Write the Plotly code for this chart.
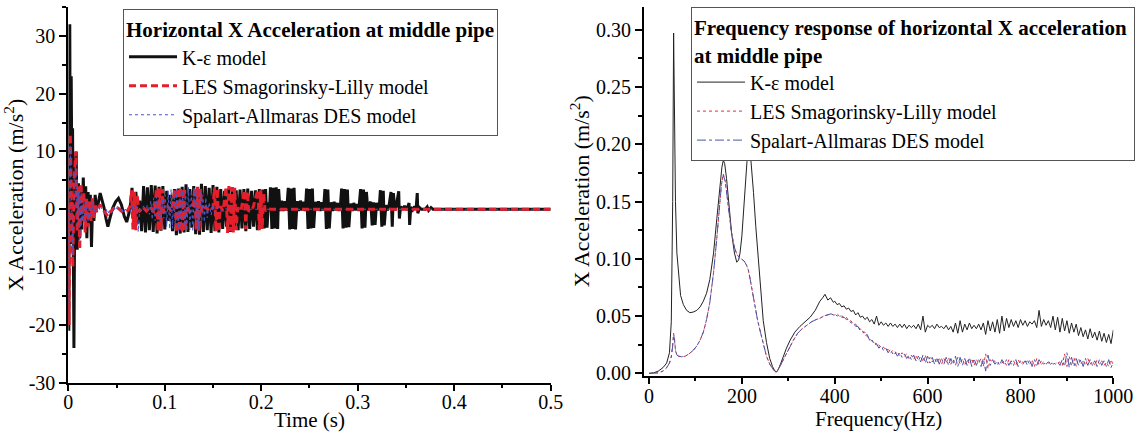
import plotly.graph_objects as go

# ---------------- Left panel: time history (s, m/s^2) ----------------
ke_t = [0, 0.0005, 0.0015, 0.0022, 0.003, 0.0037, 0.0044, 0.0051, 0.0058, 0.0068, 0.0082, 0.0092,
        0.0105, 0.0118, 0.0128, 0.0140, 0.0155, 0.0168, 0.0180, 0.0192, 0.0205, 0.0218, 0.0228,
        0.0240, 0.0252, 0.0265, 0.0278, 0.0290,
        0.031, 0.033, 0.035, 0.037, 0.039, 0.041, 0.043, 0.046, 0.049, 0.052, 0.055, 0.058, 0.0605,
        0.063, 0.065,
        0.066, 0.068, 0.070, 0.072, 0.074, 0.076, 0.078, 0.080, 0.082, 0.084, 0.086, 0.088, 0.090,
        0.092, 0.094, 0.096, 0.098, 0.100, 0.102, 0.104, 0.106, 0.108, 0.110, 0.112, 0.114, 0.116,
        0.118, 0.120, 0.122, 0.124, 0.126, 0.128, 0.130, 0.132, 0.134, 0.136, 0.138, 0.140, 0.142,
        0.144, 0.146, 0.148, 0.150, 0.152, 0.154, 0.156, 0.158, 0.160, 0.162, 0.164, 0.166, 0.168,
        0.170, 0.172, 0.174, 0.176, 0.178, 0.180, 0.182, 0.184, 0.186, 0.188, 0.190, 0.192, 0.194,
        0.196, 0.198, 0.200,
        0.2015, 0.203, 0.2045, 0.206, 0.2075, 0.2085,
        0.2095, 0.211, 0.2125, 0.214, 0.2155, 0.217, 0.2180,
        0.2195, 0.2212, 0.2229, 0.2246, 0.2263,
        0.2280, 0.2295, 0.2310, 0.2325, 0.2340, 0.2355,
        0.2372, 0.2389, 0.2406, 0.2423, 0.2440, 0.2457,
        0.2470, 0.2485, 0.2500, 0.2515, 0.2530, 0.2543,
        0.2560, 0.2577, 0.2594, 0.2611, 0.2628, 0.2645,
        0.2660, 0.2675, 0.2690, 0.2705,
        0.2722, 0.2739, 0.2756, 0.2773, 0.2790, 0.2807, 0.2822,
        0.2833, 0.2848, 0.2863, 0.2878, 0.2893, 0.2908,
        0.2925, 0.2942, 0.2959, 0.2976, 0.2993, 0.3010,
        0.3030, 0.3045, 0.3060, 0.3075, 0.3090,
        0.3105, 0.3120,
        0.3135, 0.3150, 0.3165, 0.3180, 0.3195,
        0.3212, 0.3225,
        0.3235, 0.3250, 0.3265, 0.3275,
        0.3292, 0.3309, 0.3326,
        0.3345, 0.3358, 0.3370,
        0.3385, 0.3400,
        0.3425, 0.3432, 0.3445,
        0.3465, 0.3485, 0.3505, 0.3520,
        0.3532, 0.3538, 0.3550,
        0.3570, 0.3590, 0.3605,
        0.3617, 0.3623,
        0.3640, 0.3660, 0.3700, 0.3720, 0.3735, 0.3760, 0.3780, 0.5]
ke_a = [0, -21, 32, -6, 23, 4, 14, -19, -24, 6, 10, -7,
        4.5, -5, 3, -3.5, 5.5, -2, 4, -5, 3, -2.5, 2.5,
        -6.5, 1, -2, 2.5, 0.5,
        1.0, 2.8, 1.6, 0.3, -1.6, -3.0, -1.6, 0.2, 1.3, 1.9, 0.8, -1.2, -2.2,
        -0.6, 1.5,
        3.7, -3.2, 3.0, -2.5, 1.5, -3.8, 4.0, -4.0, 3.8, -3.6, 4.2, -3.9, 4.1,
        -4.2, 3.9, -3.7, 4.0, -3.5, 3.2, -2.0, 2.5, -3.8, 3.5, -4.5, 3.6, -4.2,
        3.9, -4.0, 4.3, -3.9, 3.5, -3.2, 4.0, -4.3, 3.8, -4.4, 4.4, -3.9, 4.0,
        -3.6, 3.7, -4.1, 4.2, -3.8, 3.9, -4.0, 3.5, -3.4, 3.2, -3.0, 3.6, -3.9,
        3.8, -3.5, 3.3, -3.6, 3.4, -3.3, 3.5, -3.8, 3.6, -3.4, 3.2, -3.0, 3.3,
        -3.6, 3.5, -3.4,
        3.4, -3.3, 3.5, -3.2, 1.2, -0.3,
        3.8, -3.4, 3.7, -3.3, 3.8, -3.4, 3.5,
        -0.3, 1.5, -0.3, 1.4, -0.2,
        3.7, -3.5, 3.6, -3.4, 3.7, -3.5,
        1.4, -0.3, 1.5, -0.2, 1.3, -0.3,
        3.6, -3.4, 3.5, -3.3, 3.6, -3.2,
        1.3, -0.2, 1.4, -0.3, 1.2, -0.2,
        3.5, -3.4, 3.4, -3.3,
        1.2, -0.3, 1.3, -0.2, 1.1, -0.3, 1.0,
        3.6, -3.3, 3.5, -3.2, 3.4, -3.1,
        1.0, -0.3, 1.1, -0.2, 0.9, -0.3,
        3.5, -3.3, 3.4, -3.2, 3.0,
        -0.2, 0.9,
        1.3, -2.8, 1.2, -2.7, 1.1,
        -0.2, 0.8,
        3.3, -3.0, 3.2, -2.8,
        0.7, -0.2, 0.8,
        3.0, -3.0, 2.8,
        -0.2, 0.6,
        3.1, -1.6, 0.5,
        -0.1, 0.6, -0.1, 0.5,
        1.1, -2.7, 0.4,
        -0.1, 0.5, 0.0,
        2.8, -0.7,
        0.3, 0.0, 0.0, 0.4, -0.2, 0.3, 0.0, 0.0]

les_t = [0, 0.0008, 0.002, 0.0032, 0.0046, 0.006, 0.0078, 0.0092, 0.0105, 0.0118, 0.0132, 0.0146,
         0.016, 0.0175, 0.019, 0.0205, 0.022, 0.0235, 0.025, 0.0265, 0.028, 0.0295,
         0.033, 0.037, 0.041, 0.045, 0.049, 0.053, 0.057, 0.061, 0.064,
         0.0655, 0.067, 0.0685, 0.070, 0.0715, 0.073,
         0.077, 0.081, 0.085, 0.089,
         0.0915, 0.093, 0.0945, 0.096, 0.0975, 0.099,
         0.103, 0.107,
         0.1105, 0.112, 0.1135, 0.115, 0.1165, 0.118, 0.1195, 0.121, 0.1225,
         0.126, 0.1295,
         0.1310, 0.1325, 0.1340, 0.1355, 0.1370, 0.1385,
         0.1425, 0.1465, 0.1500,
         0.1515, 0.1530, 0.1545, 0.1560, 0.1575,
         0.1605,
         0.1635, 0.1650, 0.1665, 0.1680, 0.1695, 0.1710, 0.1725, 0.1740, 0.1755,
         0.1790,
         0.1825, 0.1840, 0.1855, 0.1870,
         0.1915,
         0.1965, 0.1980, 0.1995, 0.2010, 0.2025, 0.2040,
         0.2060, 0.2100, 0.5]
les_a = [0, -20, 13, 1, -10, 5, 10, -4, 4, -7, 4.5, -2,
         3, -4, 2, -3, 1.5, -2, 2, -1.5, 1, -0.5,
         0.8, -0.3, -1.2, -0.2, 0.5, 0.0, -0.6, -0.3, 0.5,
         3.3, -3.5, 3.0, -3.6, 2.5, -0.5,
         0.4, -0.3, 0.5, -0.6,
         3.6, -3.8, 3.7, -3.6, 3.5, -0.6,
         0.5, -0.4,
         3.6, -4.0, 3.7, -3.8, 3.8, -4.0, 3.6, -3.7, 0.5,
         -0.4, 0.4,
         3.8, -3.6, 3.9, -3.8, 3.5, -0.5,
         0.4, -0.4, 0.3,
         3.7, -3.8, 3.6, -3.9, 0.5,
         -0.3,
         3.9, -4.1, 4.0, -3.8, 3.8, -4.0, 3.7, -3.6, 0.3,
         -0.3,
         3.3, -3.4, 3.1, -0.4,
         0.3,
         3.4, -3.6, 3.3, -3.4, 2.8, -0.3,
         0.1, 0.0, 0.0]

sa_t = [0, 0.0008, 0.002, 0.0032, 0.0046, 0.006, 0.0078, 0.0092, 0.0105, 0.0118, 0.0132, 0.0146,
        0.016, 0.0175, 0.019, 0.0205, 0.022, 0.0235, 0.025, 0.0265, 0.028, 0.0295,
        0.031, 0.033, 0.035, 0.037, 0.039, 0.041, 0.043, 0.045, 0.047, 0.049, 0.051, 0.053,
        0.055, 0.057, 0.059, 0.061, 0.063, 0.065, 0.067, 0.069, 0.071, 0.0725, 0.074, 0.076,
        0.078, 0.080, 0.082, 0.084, 0.0855, 0.087, 0.0885, 0.090, 0.0915, 0.093, 0.0945, 0.096,
        0.0975, 0.099, 0.1005, 0.102, 0.1035, 0.105, 0.1065, 0.108, 0.1095, 0.111, 0.1125, 0.114,
        0.1155, 0.117, 0.1185, 0.120, 0.1215, 0.123, 0.1245, 0.126, 0.1275, 0.129, 0.1305, 0.132,
        0.1335, 0.135, 0.1365, 0.138, 0.1395, 0.141, 0.1425, 0.144, 0.146, 0.148, 0.150, 0.152,
        0.155, 0.158, 0.162, 0.166, 0.170, 0.5]
sa_a = [0, -17, 11, 2, -8, 5, 8, -3, 3, -6, 3.5, -2,
        2, -3, 1.2, -2, 1, -1.5, 1.2, -1, 0.6, -0.3,
        0.6, -0.2, 0.4, -0.5, 0.1, -0.8, -0.1, -0.6, 0.3, -0.2, 0.5, -0.2,
        0.3, -0.6, 0.0, -0.7, 0.1, -0.4, 0.6, -0.1, 0.7, -3.9, 0.4, -0.3,
        0.6, -0.4, 0.8, -0.9, 1.5, -1.8, 2.0, -2.0, 2.2, -1.9, 2.0, -2.2,
        1.8, -1.6, 2.5, -3.0, 3.2, -3.4, 3.5, -3.3, 3.0, -3.6, 3.4, -3.8,
        3.6, -3.5, 3.2, -3.0, 3.5, -3.7, 3.8, -3.6, 3.3, -3.9, 3.7, -3.4,
        3.6, -3.5, 3.2, -3.0, 2.5, -2.2, 2.0, -1.5, 1.2, -1.0, 0.8, -0.6,
        0.4, -0.3, 0.2, -0.1, 0.0, 0.0]

# ---------------- Right panel: frequency response (Hz, m/s^2) ----------------
ke_f = [0, 10, 20, 30, 38, 44, 48, 51, 53, 55, 57, 60, 64, 68, 74, 81, 88, 95, 103, 110, 117, 124,
        131, 139, 146, 153, 157, 160, 163, 167, 172, 178, 184, 189, 193, 196, 200, 204, 207, 211,
        214, 216, 218, 221, 225, 230, 235, 240, 246, 253, 260, 266, 271, 275, 279, 284, 289, 296,
        304, 314, 325, 336, 347, 358, 368, 374, 379, 385, 391, 397,
        400, 405, 410, 415, 420, 425, 430, 435, 440, 445, 450, 455, 460, 465, 470, 475, 480, 485,
        490, 495, 500, 505, 510, 515, 520, 525, 530, 535, 540, 545, 550, 555, 560, 565, 570, 575,
        580, 585, 590, 595, 600, 605, 610, 615, 620, 625, 630, 635, 640, 645, 650, 655, 660, 665,
        670, 675, 680, 685, 690, 695, 700, 705, 710, 715, 720, 725, 730, 735, 740, 745, 750, 755,
        760, 765, 770, 775, 780, 785, 790, 795, 800, 805, 810, 815, 820, 825, 830, 835, 840, 845,
        850, 855, 860, 865, 870, 875, 880, 885, 890, 895, 900, 905, 910, 915, 920, 925, 930, 935,
        940, 945, 950, 955, 960, 965, 970, 975, 980, 985, 990, 995, 1000]
ke_amp = [0.0, 0.0005, 0.002, 0.005, 0.009, 0.018, 0.045, 0.15, 0.297, 0.22, 0.15, 0.105, 0.082,
          0.068, 0.060, 0.055, 0.053, 0.0535, 0.055, 0.058, 0.063, 0.070, 0.082, 0.105, 0.135,
          0.165, 0.180, 0.186, 0.183, 0.170, 0.148, 0.122, 0.105, 0.097, 0.099, 0.105, 0.120,
          0.145, 0.165, 0.185, 0.193, 0.195, 0.193, 0.180, 0.158, 0.128, 0.100, 0.072, 0.046,
          0.027, 0.013, 0.006, 0.002, 0.0015, 0.004, 0.009, 0.015, 0.022, 0.029, 0.036, 0.041,
          0.045, 0.049, 0.055, 0.063, 0.066, 0.069, 0.064, 0.066, 0.062,
          0.063, 0.060, 0.061, 0.058, 0.059, 0.056, 0.057, 0.054, 0.055, 0.051, 0.053, 0.049,
          0.050, 0.047, 0.049, 0.045, 0.047, 0.043, 0.050, 0.042, 0.045, 0.042, 0.044, 0.041,
          0.044, 0.041, 0.043, 0.040, 0.043, 0.040, 0.043, 0.039, 0.042, 0.040, 0.042, 0.039,
          0.043, 0.038, 0.050, 0.036, 0.042, 0.040, 0.042, 0.039, 0.043, 0.040, 0.041, 0.039,
          0.042, 0.038, 0.041, 0.036, 0.044, 0.035, 0.046, 0.036, 0.043, 0.038, 0.044, 0.039,
          0.042, 0.039, 0.043, 0.038, 0.044, 0.034, 0.046, 0.037, 0.045, 0.036, 0.047, 0.035,
          0.050, 0.037, 0.048, 0.040, 0.047, 0.041, 0.046, 0.040, 0.047, 0.042, 0.046, 0.041,
          0.045, 0.043, 0.046, 0.040, 0.055, 0.041, 0.047, 0.042, 0.046, 0.040, 0.050, 0.038,
          0.049, 0.036, 0.048, 0.037, 0.046, 0.035, 0.044, 0.036, 0.043, 0.033, 0.040, 0.032,
          0.038, 0.030, 0.039, 0.031, 0.036, 0.029, 0.037, 0.028, 0.035, 0.027, 0.034, 0.026,
          0.038]

les_f = [0, 10, 20, 30, 38, 44, 48, 51, 53, 55, 57, 60, 64, 70, 78, 86, 95, 103, 110, 117, 124,
         131, 139, 146, 152, 156, 160, 164, 168, 173, 178, 184, 189, 195, 200, 205, 210, 214, 217,
         222, 228, 234, 240, 247, 253, 260, 266, 271, 274, 278, 283, 289, 296, 304, 311, 320, 330,
         340, 350, 360, 368, 376, 384, 392, 397,
         400, 405, 410, 415, 420, 425, 430, 435, 440, 445, 450, 455, 460, 465, 470, 475, 480, 485,
         490, 495, 500, 505, 510, 515, 520, 525, 530, 535, 540, 545, 550, 555, 560, 565, 570, 575,
         580, 585, 590, 595, 600, 605, 610, 615, 620, 625, 630, 635, 640, 645, 650, 655, 660, 665,
         670, 675, 680, 685, 690, 695, 700, 705, 710, 715, 720, 725, 730, 735, 740, 745, 750, 755,
         760, 765, 770, 775, 780, 785, 790, 795, 800, 805, 810, 815, 820, 825, 830, 835, 840, 845,
         850, 855, 860, 865, 870, 875, 880, 885, 890, 895, 900, 905, 910, 915, 920, 925, 930, 935,
         940, 945, 950, 955, 960, 965, 970, 975, 980, 985, 990, 995, 1000]
les_amp = [0.0, 0.0, 0.0005, 0.002, 0.005, 0.009, 0.015, 0.025, 0.035, 0.030, 0.020, 0.016, 0.015,
           0.0145, 0.015, 0.017, 0.020, 0.024, 0.029, 0.036, 0.047, 0.062, 0.088, 0.118, 0.148,
           0.165, 0.174, 0.168, 0.155, 0.137, 0.122, 0.110, 0.104, 0.101, 0.0995, 0.098, 0.0945,
           0.090, 0.084, 0.072, 0.058, 0.046, 0.036, 0.024, 0.015, 0.008, 0.004, 0.0015, 0.001,
           0.003, 0.007, 0.012, 0.018, 0.024, 0.029, 0.035, 0.039, 0.042, 0.045, 0.047, 0.048,
           0.050, 0.051, 0.052, 0.051,
           0.051, 0.052, 0.050, 0.051, 0.048, 0.049, 0.046, 0.046, 0.043, 0.043, 0.040, 0.039,
           0.036, 0.036, 0.032, 0.031, 0.028, 0.028, 0.024, 0.025, 0.022, 0.023, 0.020, 0.021,
           0.018, 0.020, 0.017, 0.019, 0.015, 0.018, 0.015, 0.017, 0.013, 0.016, 0.012, 0.016,
           0.011, 0.015, 0.010, 0.016, 0.009, 0.014, 0.010, 0.013, 0.009, 0.014, 0.008, 0.013,
           0.009, 0.014, 0.008, 0.012, 0.007, 0.014, 0.008, 0.013, 0.007, 0.012, 0.008, 0.013,
           0.007, 0.012, 0.009, 0.013, 0.006, 0.017, 0.004, 0.012, 0.009, 0.011, 0.008, 0.010,
           0.009, 0.011, 0.007, 0.012, 0.008, 0.011, 0.007, 0.012, 0.008, 0.010, 0.009, 0.011,
           0.008, 0.012, 0.006, 0.013, 0.007, 0.011, 0.008, 0.010, 0.009, 0.010, 0.008, 0.009,
           0.009, 0.010, 0.007, 0.017, 0.006, 0.015, 0.007, 0.014, 0.006, 0.013, 0.008, 0.012,
           0.007, 0.013, 0.008, 0.011, 0.007, 0.012, 0.008, 0.011, 0.007, 0.010, 0.006, 0.012,
           0.007]

sa_f = les_f
sa_amp = [0.0, 0.0, 0.0005, 0.002, 0.005, 0.009, 0.014, 0.024, 0.034, 0.029, 0.020, 0.016, 0.015,
          0.0145, 0.015, 0.017, 0.020, 0.024, 0.029, 0.036, 0.047, 0.062, 0.088, 0.118, 0.148,
          0.165, 0.173, 0.168, 0.155, 0.137, 0.122, 0.110, 0.104, 0.101, 0.0995, 0.098, 0.0945,
          0.090, 0.084, 0.072, 0.058, 0.046, 0.036, 0.024, 0.015, 0.008, 0.004, 0.0015, 0.001,
          0.003, 0.007, 0.012, 0.018, 0.024, 0.029, 0.035, 0.039, 0.042, 0.045, 0.047, 0.048,
          0.050, 0.051, 0.052, 0.051,
          0.052, 0.050, 0.051, 0.049, 0.049, 0.047, 0.047, 0.044, 0.044, 0.041, 0.041, 0.037,
          0.037, 0.033, 0.034, 0.029, 0.030, 0.025, 0.026, 0.022, 0.024, 0.020, 0.022, 0.018,
          0.021, 0.017, 0.019, 0.015, 0.018, 0.014, 0.017, 0.013, 0.016, 0.012, 0.016, 0.011,
          0.015, 0.010, 0.016, 0.009, 0.015, 0.009, 0.014, 0.008, 0.014, 0.008, 0.013, 0.008,
          0.014, 0.007, 0.013, 0.008, 0.015, 0.006, 0.014, 0.007, 0.013, 0.007, 0.014, 0.006,
          0.013, 0.007, 0.012, 0.006, 0.013, 0.002, 0.016, 0.007, 0.012, 0.008, 0.011, 0.007,
          0.012, 0.008, 0.012, 0.007, 0.011, 0.007, 0.012, 0.006, 0.011, 0.008, 0.011, 0.007,
          0.012, 0.006, 0.012, 0.007, 0.012, 0.008, 0.010, 0.008, 0.010, 0.008, 0.010, 0.008,
          0.010, 0.007, 0.012, 0.006, 0.018, 0.005, 0.014, 0.006, 0.013, 0.007, 0.012, 0.006,
          0.013, 0.007, 0.012, 0.007, 0.011, 0.006, 0.012, 0.007, 0.011, 0.006, 0.012, 0.005,
          0.010]

series_names = ["K-\u03b5 model", "LES Smagorinsky-Lilly model", "Spalart-Allmaras DES model"]
left_ticks = [-30, -20, -10, 0, 10, 20, 30]
left_ticktext = ["-30", "-20", "-10", "0", "10", "20", "30"]
time_ticks = [0, 0.1, 0.2, 0.3, 0.4, 0.5]
time_ticktext = ["0", "0.1", "0.2", "0.3", "0.4", "0.5"]
freq_ticks = [0, 200, 400, 600, 800, 1000]
amp_ticks = [0.00, 0.05, 0.10, 0.15, 0.20, 0.25, 0.30]

FONT = "Liberation Serif, Times New Roman, serif"
BLACK = "#111111"
RED = "#e41f2b"
BLUE = "#4757c2"

fig = go.Figure()

# left panel
fig.add_trace(go.Scatter(x=ke_t, y=ke_a, mode="lines", name=series_names[0],
                         line=dict(color=BLACK, width=3), xaxis="x", yaxis="y", legend="legend"))
fig.add_trace(go.Scatter(x=les_t, y=les_a, mode="lines", name=series_names[1],
                         line=dict(color=RED, width=3, dash="7px,4px"), xaxis="x", yaxis="y",
                         legend="legend"))
fig.add_trace(go.Scatter(x=sa_t, y=sa_a, mode="lines", name=series_names[2],
                         line=dict(color=BLUE, width=1.1, dash="dot"), xaxis="x", yaxis="y",
                         legend="legend"))

# right panel
fig.add_trace(go.Scatter(x=ke_f, y=ke_amp, mode="lines", name=series_names[0],
                         line=dict(color="#222222", width=1), xaxis="x2", yaxis="y2",
                         legend="legend2"))
fig.add_trace(go.Scatter(x=les_f, y=les_amp, mode="lines", name=series_names[1],
                         line=dict(color="#e0303c", width=1, dash="dot"), xaxis="x2", yaxis="y2",
                         legend="legend2"))
fig.add_trace(go.Scatter(x=sa_f, y=sa_amp, mode="lines", name=series_names[2],
                         line=dict(color="#4a56a6", width=1, dash="dashdot"), xaxis="x2",
                         yaxis="y2", legend="legend2"))

axis_common = dict(showline=True, linecolor="black", linewidth=2, ticks="outside",
                   tickcolor="black", tickwidth=2, showgrid=False, zeroline=False,
                   mirror=False, tickfont=dict(family=FONT, size=20, color="black"),
                   automargin=False)

fig.update_layout(
    width=1137, height=437,
    margin=dict(l=0, r=0, t=0, b=0),
    paper_bgcolor="white", plot_bgcolor="white",
    font=dict(family=FONT, size=20, color="black"),
    xaxis=dict(domain=[0.0601, 0.4843], range=[0, 0.5], anchor="y",
               tickvals=time_ticks, ticktext=time_ticktext, ticklen=6, ticklabelstandoff=-6,
               minor=dict(dtick=0.05, ticklen=3, ticks="outside", tickcolor="black", tickwidth=2),
               title=dict(text="Time (s)", font=dict(family=FONT, size=21), standoff=1),
               **axis_common),
    yaxis=dict(domain=[0.1243, 0.984], range=[-30, 35], anchor="x",
               tickvals=left_ticks, ticktext=left_ticktext, ticklen=7,
               minor=dict(dtick=5, ticklen=4, ticks="outside", tickcolor="black", tickwidth=2),
               title=dict(text="X Acceleration (m/s<sup>2</sup>)", font=dict(family=FONT, size=22),
                          standoff=6),
               **axis_common),
    xaxis2=dict(domain=[0.5664, 0.9792], range=[-10.8, 1000], anchor="y2",
                tickvals=freq_ticks, ticklen=6, ticklabelstandoff=-5,
                minor=dict(dtick=100, ticklen=3, ticks="outside", tickcolor="black", tickwidth=2),
                title=dict(text="Frequency(Hz)", font=dict(family=FONT, size=21), standoff=1),
                **axis_common),
    yaxis2=dict(domain=[0.1403, 0.9847], range=[-0.002, 0.32], anchor="x2",
                tickvals=amp_ticks, tickformat=".2f", ticklen=7,
                minor=dict(dtick=0.025, ticklen=4, ticks="outside", tickcolor="black", tickwidth=2),
                title=dict(text="X Acceleration (m/s<sup>2</sup>)", font=dict(family=FONT, size=22),
                           standoff=0),
                **axis_common),
    legend=dict(x=123 / 1137, y=1 - 9 / 437, xanchor="left", yanchor="top",
                bgcolor="white", bordercolor="#555555", borderwidth=1,
                font=dict(family=FONT, size=20, color="black"), itemwidth=48,
                title=dict(text="<b>Horizontal X Acceleration at middle pipe</b>",
                           font=dict(family=FONT, size=21, color="black"))),
    legend2=dict(x=691 / 1137, y=1 - 7 / 437, xanchor="left", yanchor="top",
                 bgcolor="white", bordercolor="#555555", borderwidth=1,
                 font=dict(family=FONT, size=20, color="black"), itemwidth=48,
                 title=dict(text="<b>Frequency response of horizontal X acceleration</b>&nbsp;<br><b>at middle pipe</b>",
                            font=dict(family=FONT, size=21, color="black"))),
)

fig.write_html("out.html", config={"displayModeBar": False},
               post_script="document.body.style.margin='0px';")
